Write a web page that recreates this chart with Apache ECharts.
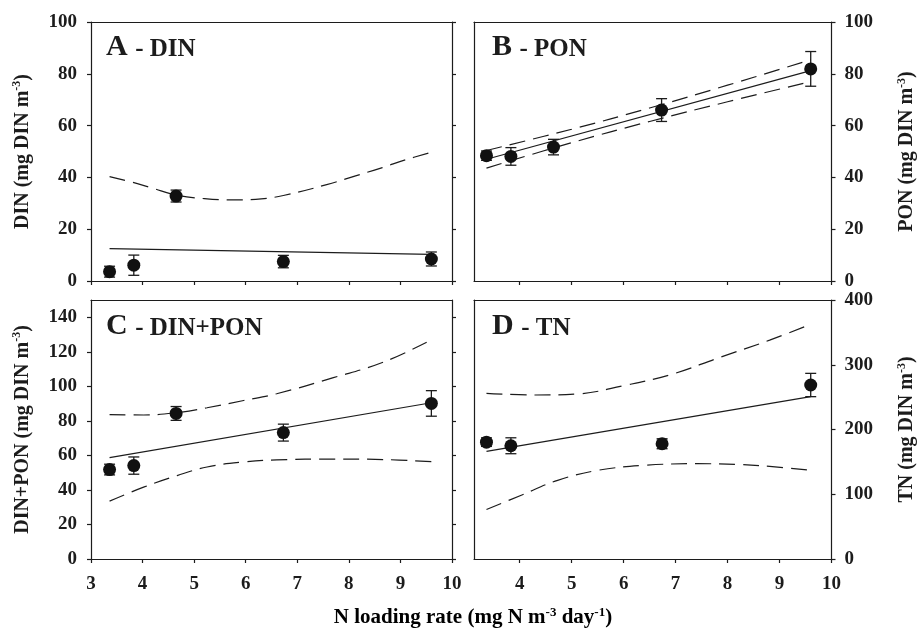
<!DOCTYPE html>
<html>
<head>
<meta charset="utf-8">
<script src="https://cdn.jsdelivr.net/npm/echarts@6/dist/echarts.min.js"></script>
<style>
  html, body { margin: 0; padding: 0; background: #fff; }
  #chart { width: 918px; height: 628px; }
</style>
</head>
<body>
<div id="chart"></div>
<script>
const FONT = "'Liberation Serif', 'DejaVu Serif', serif";
const INK = '#1c1c1c';

const loadX = [3.36, 3.83, 4.65, 6.73, 9.6];
const dinMean = [3.6, 6.1, 32.8, 7.5, 8.5];
const dinErr = [2.1, 3.9, 2.3, 2.4, 2.7];
const ponMean = [48.4, 48.1, 51.7, 66.0, 81.9];
const ponErr = [1.8, 3.4, 3.0, 4.4, 6.7];
const dinPonMean = [51.8, 54.1, 84.3, 73.2, 90.1];
const dinPonErr = [3.1, 5.0, 4.0, 4.9, 7.4];
const tnX = [3.36, 3.83, 6.74, 9.6];
const tnMean = [180.5, 174.9, 178.0, 268.7];
const tnErr = [6.6, 12.3, 7.7, 18.0];

// regression lines
const fitX = [3.36, 9.6];
const dinFit = [12.5, 10.3];
const ponFit = [47.0, 81.2];
const dinPonFit = [58.7, 90.5];
const tnFit = [166.2, 250.8];

// confidence bands
const dinUpperX = [3.36, 3.9, 4.2, 4.65, 5.2, 5.76, 6.3, 6.73, 7.57, 8.13, 8.65, 9.1, 9.6];
const dinUpper = [40.3, 37.6, 35.8, 33.2, 31.8, 31.3, 31.7, 33.0, 37.2, 40.6, 43.8, 46.8, 49.7];
const ponBandX = [3.36, 5.0, 6.5, 8.0, 9.6];
const ponUpper = [50.4, 58.6, 66.8, 75.6, 85.4];
const ponLower = [43.6, 53.4, 61.6, 69.2, 77.0];
const dinPonBandX = [3.36, 4.02, 4.67, 5.25, 5.96, 6.6, 7.7, 8.67, 9.6];
const dinPonUpper = [83.6, 83.4, 84.8, 87.6, 91.8, 95.7, 105.0, 114.0, 126.9];
const dinPonLower = [33.5, 41.6, 48.3, 53.3, 56.2, 57.4, 57.9, 57.6, 56.4];
const tnUpperX = [3.36, 4.29, 5.11, 6.0, 6.9, 7.85, 8.81, 9.6];
const tnUpper = [255.9, 253.3, 254.9, 267.7, 284.6, 311.3, 338.0, 362.6];
const tnLowerX = [3.36, 4.03, 4.73, 5.5, 6.39, 7.41, 8.17, 8.81, 9.6];
const tnLower = [76.4, 98.5, 121.5, 136.9, 144.6, 147.2, 146.2, 143.0, 136.9];

// tick labels
const xTicksRight = [4, 5, 6, 7, 8, 9, 10];
const dinPonTicks = [0, 20, 40, 60, 80, 100, 120, 140];

const zip = (xs, ys) => xs.map((x, i) => [x, ys[i]]);
const zip3 = (xs, ys, es) => xs.map((x, i) => [x, ys[i], es[i]]);

const lineStyle = { color: INK, width: 1.2 };
const axisLine = { show: true, onZero: false, lineStyle: lineStyle };
const tick = { show: true, inside: false, length: 4, lineStyle: lineStyle };
const labelFont = { color: INK, fontFamily: FONT, fontWeight: 'bold', fontSize: 19 };

const richText = size => ({
  n: { fontFamily: FONT, fontWeight: 'bold', fontSize: size, color: INK, lineHeight: size + 3 },
  s: { fontFamily: FONT, fontWeight: 'bold', fontSize: Math.round(size * 0.62), color: INK, verticalAlign: 'top', lineHeight: 8 }
});
const nameStyle = { fontFamily: FONT, color: INK, rich: richText(20) };

const grids = [
  { left: 91, top: 22, width: 361, height: 259 },
  { left: 474, top: 22, width: 361, height: 259 },
  { left: 91, top: 300, width: 361, height: 259 },
  { left: 474, top: 300, width: 361, height: 259 }
];

const xAxis = [];
const yAxis = [];

const plainX = (g, min, position) => ({
  gridIndex: g, type: 'value', min: min, max: 10, position: position,
  axisLine: axisLine, axisTick: { show: false }, axisLabel: { show: false }, splitLine: { show: false }
});

// A
xAxis.push({ gridIndex: 0, type: 'value', min: 3, max: 10, interval: 1, axisLine: axisLine,
  axisTick: tick, axisLabel: { show: false }, splitLine: { show: false } });
xAxis.push(plainX(0, 3, 'top'));
// B
xAxis.push({ gridIndex: 1, type: 'value', min: 3.12, max: 10, axisLine: axisLine,
  axisTick: Object.assign({}, tick, { customValues: xTicksRight }), axisLabel: { show: false }, splitLine: { show: false } });
xAxis.push(plainX(1, 3.12, 'top'));
// C
xAxis.push({ gridIndex: 2, type: 'value', min: 3, max: 10, interval: 1, axisLine: axisLine,
  axisTick: tick, axisLabel: Object.assign({ margin: 16 }, labelFont), splitLine: { show: false } });
xAxis.push(plainX(2, 3, 'top'));
// D
xAxis.push({ gridIndex: 3, type: 'value', min: 3.12, max: 10, axisLine: axisLine,
  axisTick: Object.assign({}, tick, { customValues: xTicksRight }),
  axisLabel: Object.assign({ margin: 16, customValues: xTicksRight }, labelFont), splitLine: { show: false } });
xAxis.push(plainX(3, 3.12, 'top'));

const yName = text => '{n|' + text + ' (mg DIN m}{s|-3}{n|)}';

// A
yAxis.push({ gridIndex: 0, type: 'value', min: 0, max: 100, interval: 20, position: 'left',
  axisLine: axisLine, axisTick: tick, axisLabel: Object.assign({ margin: 14 }, labelFont), splitLine: { show: false },
  name: yName('DIN'), nameLocation: 'middle', nameGap: 57, nameRotate: 90, nameTextStyle: nameStyle });
yAxis.push({ gridIndex: 0, type: 'value', min: 0, max: 100, interval: 20, position: 'right',
  axisLine: axisLine, axisTick: tick, axisLabel: { show: false }, splitLine: { show: false } });
// B
yAxis.push({ gridIndex: 1, type: 'value', min: 0, max: 100, interval: 20, position: 'right',
  axisLine: axisLine, axisTick: tick, axisLabel: Object.assign({ margin: 13 }, labelFont), splitLine: { show: false },
  name: yName('PON'), nameLocation: 'middle', nameGap: 64, nameRotate: 90, nameTextStyle: nameStyle });
yAxis.push({ gridIndex: 1, type: 'value', min: 0, max: 100, position: 'left',
  axisLine: axisLine, axisTick: { show: false }, axisLabel: { show: false }, splitLine: { show: false } });
// C
yAxis.push({ gridIndex: 2, type: 'value', min: 0, max: 150, position: 'left',
  axisLine: axisLine, axisTick: Object.assign({}, tick, { customValues: dinPonTicks }),
  axisLabel: Object.assign({ margin: 14, customValues: dinPonTicks }, labelFont), splitLine: { show: false },
  name: yName('DIN+PON'), nameLocation: 'middle', nameGap: 57, nameRotate: 90, nameTextStyle: nameStyle });
yAxis.push({ gridIndex: 2, type: 'value', min: 0, max: 150, position: 'right',
  axisLine: axisLine, axisTick: Object.assign({}, tick, { customValues: dinPonTicks }),
  axisLabel: { show: false }, splitLine: { show: false } });
// D
yAxis.push({ gridIndex: 3, type: 'value', min: 0, max: 400, interval: 100, position: 'right',
  axisLine: axisLine, axisTick: tick, axisLabel: Object.assign({ margin: 13 }, labelFont), splitLine: { show: false },
  name: yName('TN'), nameLocation: 'middle', nameGap: 64, nameRotate: 90, nameTextStyle: nameStyle });
yAxis.push({ gridIndex: 3, type: 'value', min: 0, max: 400, position: 'left',
  axisLine: axisLine, axisTick: { show: false }, axisLabel: { show: false }, splitLine: { show: false } });

const errorBars = (axis, data) => ({
  type: 'custom', xAxisIndex: axis, yAxisIndex: axis, z: 3, silent: true,
  renderItem: (params, api) => {
    const x = api.value(0), y = api.value(1), e = api.value(2);
    const hi = api.coord([x, y + e]);
    const lo = api.coord([x, y - e]);
    const half = 5.5;
    const style = { stroke: INK, lineWidth: 1.3 };
    return {
      type: 'group',
      children: [
        { type: 'line', shape: { x1: hi[0], y1: hi[1], x2: lo[0], y2: lo[1] }, style: style },
        { type: 'line', shape: { x1: hi[0] - half, y1: hi[1], x2: hi[0] + half, y2: hi[1] }, style: style },
        { type: 'line', shape: { x1: lo[0] - half, y1: lo[1], x2: lo[0] + half, y2: lo[1] }, style: style }
      ]
    };
  },
  data: data
});

const dots = (axis, data) => ({
  type: 'scatter', xAxisIndex: axis, yAxisIndex: axis, z: 5, symbol: 'circle', symbolSize: 13,
  itemStyle: { color: '#111', opacity: 1 }, data: data.map(d => [d[0], d[1]])
});

const fit = (axis, ys) => ({
  type: 'line', xAxisIndex: axis, yAxisIndex: axis, z: 4, showSymbol: false, symbol: 'none',
  lineStyle: { color: INK, width: 1.2 }, data: zip(fitX, ys)
});

const band = (axis, xs, ys) => ({
  type: 'line', xAxisIndex: axis, yAxisIndex: axis, z: 4, showSymbol: false, symbol: 'none', smooth: 0.4,
  lineStyle: { color: INK, width: 1.2, type: [16, 8] }, data: zip(xs, ys)
});

const dinPts = zip3(loadX, dinMean, dinErr);
const ponPts = zip3(loadX, ponMean, ponErr);
const dinPonPts = zip3(loadX, dinPonMean, dinPonErr);
const tnPts = zip3(tnX, tnMean, tnErr);

// axis index per panel: A -> 0, B -> 2, C -> 4, D -> 6
const series = [
  band(0, dinUpperX, dinUpper), fit(0, dinFit), errorBars(0, dinPts), dots(0, dinPts),
  band(2, ponBandX, ponUpper), band(2, ponBandX, ponLower), fit(2, ponFit), errorBars(2, ponPts), dots(2, ponPts),
  band(4, dinPonBandX, dinPonUpper), band(4, dinPonBandX, dinPonLower), fit(4, dinPonFit), errorBars(4, dinPonPts), dots(4, dinPonPts),
  band(6, tnUpperX, tnUpper), band(6, tnLowerX, tnLower), fit(6, tnFit), errorBars(6, tnPts), dots(6, tnPts)
];

const panelRich = {
  big: { fontFamily: FONT, fontWeight: 'bold', fontSize: 30, color: INK, lineHeight: 30, verticalAlign: 'bottom' },
  small: { fontFamily: FONT, fontWeight: 'bold', fontSize: 25, color: INK, lineHeight: 25, verticalAlign: 'bottom' }
};
const panelTitle = (letter, name, left, top) => ({
  text: '{big|' + letter + ' }{small|- ' + name + '}', left: left, top: top, padding: 0,
  textStyle: { rich: panelRich }
});

const option = {
  animation: false,
  backgroundColor: '#fff',
  title: [
    panelTitle('A', 'DIN', 106, 32),
    panelTitle('B', 'PON', 492, 32),
    panelTitle('C', 'DIN+PON', 106, 311),
    panelTitle('D', 'TN', 492, 311)
  ],
  grid: grids,
  xAxis: xAxis,
  yAxis: yAxis,
  series: series,
  graphic: [{
    type: 'text', x: 473, y: 618,
    style: {
      text: '{n|N loading rate (mg N m}{s|-3}{n| day}{s|-1}{n|)}',
      align: 'center', verticalAlign: 'middle',
      rich: richText(21)
    }
  }]
};

const chart = echarts.init(document.getElementById('chart'));
chart.setOption(option);
</script>
</body>
</html>
